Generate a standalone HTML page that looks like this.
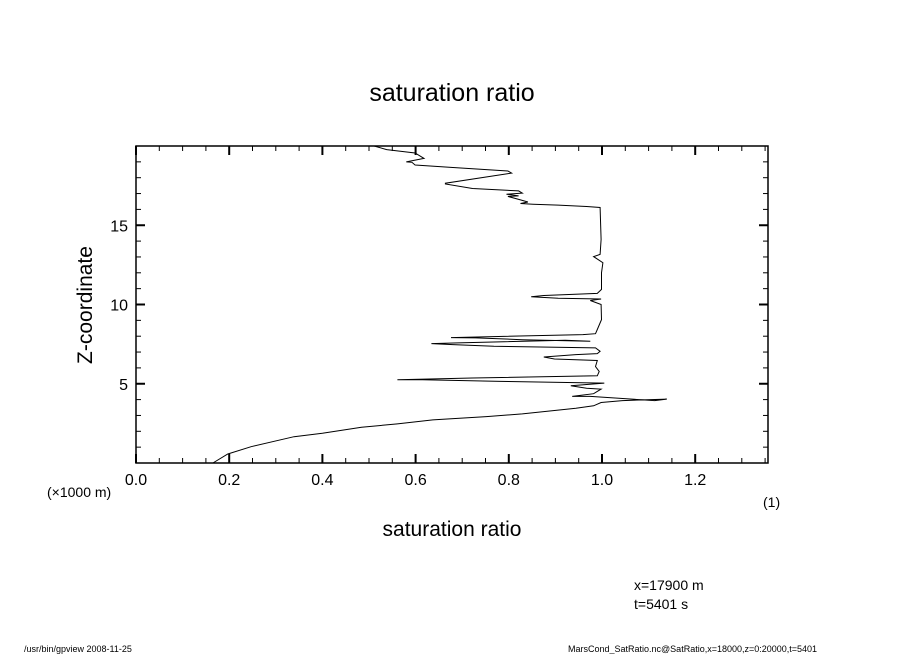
<!DOCTYPE html>
<html><head><meta charset="utf-8"><style>
html,body{margin:0;padding:0;background:#fff;}
svg{display:block;font-family:"Liberation Sans",sans-serif;}
</style></head><body>
<svg id="chart" width="904" height="654" viewBox="0 0 904 654">
<rect width="904" height="654" fill="#fff"/>
<text x="452" y="101" font-size="25" text-anchor="middle">saturation ratio</text>
<g id="axes"></g>
<path id="curve" fill="none" stroke="#000" stroke-width="1"/>
<text x="452" y="536" font-size="21" text-anchor="middle">saturation ratio</text>
<text x="92" y="305" font-size="21" text-anchor="middle" transform="rotate(-90 92 305)">Z-coordinate</text>
<text x="47" y="497" font-size="14">(×1000 m)</text>
<text x="763" y="507" font-size="14">(1)</text>
<text x="634" y="590" font-size="14">x=17900 m</text>
<text x="634" y="609" font-size="14">t=5401 s</text>
<text x="24" y="652" font-size="9">/usr/bin/gpview  2008-11-25</text>
<text x="568" y="652" font-size="9">MarsCond_SatRatio.nc@SatRatio,x=18000,z=0:20000,t=5401</text>
</svg>
<script>
const satValues=[0.165,0.197,0.247,0.339,0.4,0.484,0.561,0.637,0.752,0.829,0.944,0.982,0.998,1.044,1.139,1.113,0.975,0.936,0.982,0.998,0.967,0.933,1.005,0.783,0.615,0.561,0.722,0.99,0.994,0.986,0.99,0.898,0.875,0.944,0.99,0.996,0.986,0.768,0.68,0.634,0.691,0.921,0.975,0.829,0.729,0.676,0.959,0.986,0.99,0.999,0.998,0.975,0.998,0.906,0.848,0.875,0.99,0.999,0.999,1.002,0.982,0.996,0.998,0.996,0.967,0.906,0.852,0.825,0.841,0.825,0.798,0.821,0.795,0.829,0.821,0.722,0.664,0.664,0.806,0.798,0.676,0.599,0.592,0.58,0.618,0.599,0.538,0.511];
const zValues=[0,0.57,1.03,1.66,1.88,2.26,2.47,2.72,2.93,3.1,3.46,3.61,3.82,3.94,4.03,3.94,4.2,4.2,4.37,4.66,4.72,4.87,5.04,5.15,5.25,5.25,5.36,5.5,5.78,6.09,6.47,6.56,6.69,6.84,6.9,7.05,7.26,7.36,7.47,7.53,7.58,7.74,7.68,7.78,7.89,7.91,8.1,8.16,8.42,9.05,10.0,10.25,10.35,10.4,10.49,10.57,10.7,10.95,12.0,12.64,13.02,13.16,14.1,16.12,16.18,16.27,16.33,16.37,16.47,16.6,16.82,16.85,16.96,17.03,17.17,17.32,17.6,17.65,18.29,18.42,18.65,18.8,18.97,19.0,19.22,19.56,19.77,20.0];
const xTickLabels=["0.0","0.2","0.4","0.6","0.8","1.0","1.2"];
const yTickLabels=["5","10","15"];
const X0=136,X1=768,Y0=463,Y1=146,XMAX=(768-136)/466,ZMAX=20;
const sx=v=>X0+v/XMAX*(X1-X0);
const sy=v=>Y0-v/ZMAX*(Y0-Y1);
const NS="http://www.w3.org/2000/svg";
const axes=document.getElementById('axes');
function ln(x1,y1,x2,y2,w){const l=document.createElementNS(NS,'line');l.setAttribute('x1',x1);l.setAttribute('y1',y1);l.setAttribute('x2',x2);l.setAttribute('y2',y2);l.setAttribute('stroke','#000');l.setAttribute('stroke-width',w);axes.appendChild(l);return l;}
const frame=document.createElementNS(NS,'rect');
frame.setAttribute('x',X0);frame.setAttribute('y',Y1);frame.setAttribute('width',X1-X0);frame.setAttribute('height',Y0-Y1);
frame.setAttribute('fill','none');frame.setAttribute('stroke','#000');frame.setAttribute('stroke-width','1.5');


axes.appendChild(frame);
for(let i=0;i*0.05<=XMAX+1e-9;i++){const v=i*0.05,x=sx(v),maj=i%4===0,L=maj?9:5,w=maj?2:1;
 const t1=ln(x,Y0,x,Y0-L,w);
 const t2=ln(x,Y1,x,Y1+L,w);}
for(let i=1;i<ZMAX;i++){const y=sy(i),maj=i%5===0,L=maj?9:5,w=maj?2:1;
 const t1=ln(X0,y,X0+L,y,w);
 const t2=ln(X1,y,X1-L,y,w);}
xTickLabels.forEach((s,i)=>{const t=document.createElementNS(NS,'text');t.setAttribute('x',sx(i*0.2));t.setAttribute('y',485);t.setAttribute('font-size','16');t.setAttribute('text-anchor','middle');t.textContent=s;
 
 
 axes.appendChild(t);});
yTickLabels.forEach((s,i)=>{const t=document.createElementNS(NS,'text');t.setAttribute('x',128);t.setAttribute('y',sy((i+1)*5)+6);t.setAttribute('font-size','16');t.setAttribute('text-anchor','end');t.textContent=s;
 
 
 axes.appendChild(t);});
document.getElementById('curve').setAttribute('d',satValues.map((v,i)=>(i?'L':'M')+sx(v).toFixed(1)+' '+sy(zValues[i]).toFixed(1)).join(' '));
</script>
</body></html>
